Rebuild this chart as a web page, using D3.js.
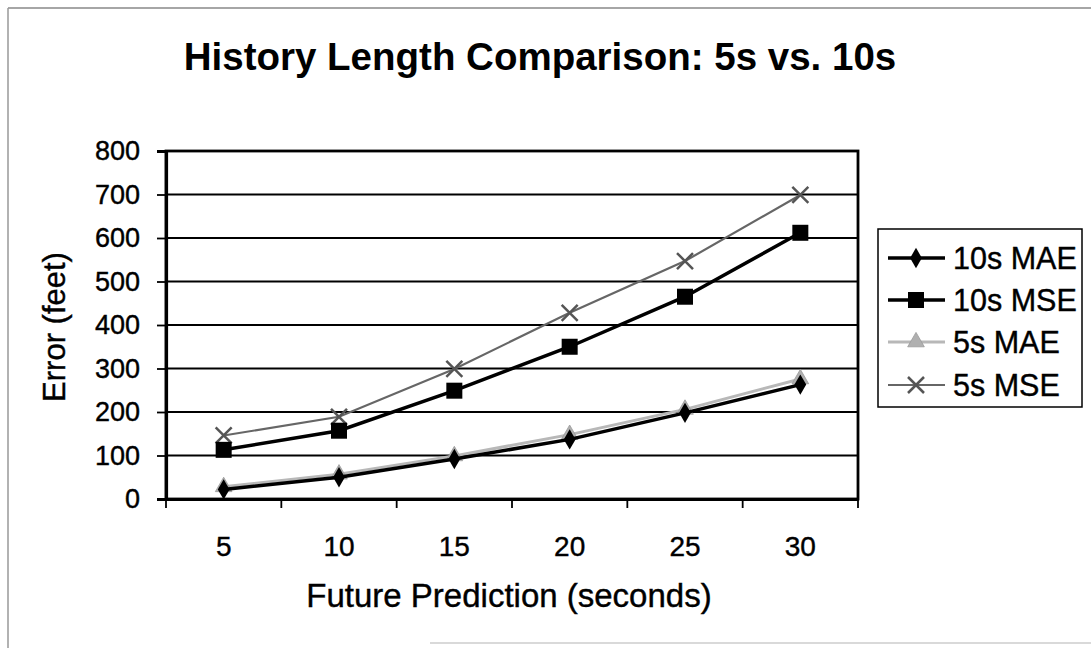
<!DOCTYPE html>
<html>
<head>
<meta charset="utf-8">
<script src="https://cdn.jsdelivr.net/npm/d3@7"></script>
<style>
  html, body { margin: 0; padding: 0; background: #fff; }
  svg { display: block; font-family: "Liberation Sans", Arial, sans-serif; }
  .txt { stroke: #000; stroke-width: 0.4px; fill: #000; }
</style>
</head>
<body>
<svg id="chart" width="1091" height="648"></svg>
<script>
// Prediction horizons (seconds) and error values (feet)
const horizons = [5, 10, 15, 20, 25, 30];
const mae10 = [22, 50, 92, 137, 198, 263];
const mse10 = [113, 157, 249, 350, 465, 612];
const mae5 = [28, 57, 99, 148, 206, 276];
const mse5 = [146, 189, 299, 428, 547, 699];
const yTicks = [0, 100, 200, 300, 400, 500, 600, 700, 800];
const seriesNames = ["10s MAE", "10s MSE", "5s MAE", "5s MSE"];

const series = [
  { name: seriesNames[0], values: mae10, color: "#000", width: 3.5, marker: "diamond", mcolor: "#000" },
  { name: seriesNames[1], values: mse10, color: "#000", width: 3.5, marker: "square", mcolor: "#000" },
  { name: seriesNames[2], values: mae5, color: "#b8b8b8", width: 3, marker: "triangle", mcolor: "#b0b0b0" },
  { name: seriesNames[3], values: mse5, color: "#666", width: 2.2, marker: "cross", mcolor: "#555" }
];

const svg = d3.select("#chart");
const plot = { left: 166, top: 151, right: 858, bottom: 499 };

// Outer chart frame
svg.append("line").attr("x1", 8).attr("y1", 8).attr("x2", 1091).attr("y2", 8)
  .attr("stroke", "#888").attr("stroke-width", 1.5);
svg.append("line").attr("x1", 8).attr("y1", 8).attr("x2", 8).attr("y2", 648)
  .attr("stroke", "#999").attr("stroke-width", 1.5);
svg.append("line").attr("x1", 430).attr("y1", 643).attr("x2", 1091).attr("y2", 643)
  .attr("stroke", "#ccc").attr("stroke-width", 1.5);

const x = d3.scaleBand().domain(horizons).range([plot.left, plot.right]);
const y = d3.scaleLinear().domain([0, 800]).range([plot.bottom, plot.top]);

// Title
svg.append("text")
  .attr("x", 540).attr("y", 70)
  .attr("text-anchor", "middle")
  .attr("font-size", 38.5).attr("font-weight", "bold")
  .text("History Length Comparison: 5s vs. 10s");

// Horizontal gridlines
svg.append("g").selectAll("line").data(yTicks).join("line")
  .attr("x1", plot.left).attr("x2", plot.right)
  .attr("y1", d => y(d)).attr("y2", d => y(d))
  .attr("stroke", "#000").attr("stroke-width", 1.8);

// Plot frame (top and right)
svg.append("rect")
  .attr("x", plot.left).attr("y", plot.top)
  .attr("width", plot.right - plot.left).attr("height", plot.bottom - plot.top)
  .attr("fill", "none").attr("stroke", "#000").attr("stroke-width", 2.8);

// Y axis
const yAxis = svg.append("g")
  .attr("transform", `translate(${plot.left},0)`)
  .call(d3.axisLeft(y).tickValues(yTicks).tickSize(9).tickPadding(17));
yAxis.select(".domain").attr("stroke-width", 3.2);
yAxis.selectAll(".tick line").attr("stroke-width", 1.8);
yAxis.selectAll("text").attr("font-size", 27).attr("font-family", "Liberation Sans, Arial, sans-serif")
  .attr("class", "txt");

// X axis: ticks sit between categories
const xAxis = svg.append("g")
  .attr("transform", `translate(0,${plot.bottom})`)
  .call(d3.axisBottom(x).tickSize(0).tickPadding(37));
xAxis.select(".domain").attr("stroke-width", 3.2);
xAxis.selectAll("text").attr("font-size", 28).attr("font-family", "Liberation Sans, Arial, sans-serif")
  .attr("class", "txt");
const bounds = horizons.map(h => x(h)).concat([plot.right]);
svg.append("g").selectAll("line").data(bounds).join("line")
  .attr("x1", d => d).attr("x2", d => d)
  .attr("y1", plot.bottom).attr("y2", plot.bottom + 9)
  .attr("stroke", "#000").attr("stroke-width", 1.8);

// Axis titles
svg.append("text")
  .attr("class", "txt")
  .attr("x", 509).attr("y", 607)
  .attr("text-anchor", "middle").attr("font-size", 33)
  .text("Future Prediction (seconds)");
svg.append("text")
  .attr("class", "txt")
  .attr("transform", "translate(65,327) rotate(-90)")
  .attr("text-anchor", "middle").attr("font-size", 31)
  .text("Error (feet)");

// Marker drawing
function drawMarker(sel, s, cx, cy) {
  if (s.marker === "diamond") {
    sel.append("path").attr("d", d3.symbol(d3.symbolDiamond, 120)())
      .attr("transform", `translate(${cx},${cy})`).attr("fill", s.mcolor);
  } else if (s.marker === "square") {
    sel.append("rect").attr("x", cx - 8).attr("y", cy - 8)
      .attr("width", 16).attr("height", 16).attr("fill", s.mcolor);
  } else if (s.marker === "triangle") {
    sel.append("path").attr("d", d3.symbol(d3.symbolTriangle, 120)())
      .attr("transform", `translate(${cx},${cy})`).attr("fill", s.mcolor)
      .attr("stroke", "#999").attr("stroke-width", 0.8);
  } else if (s.marker === "cross") {
    const r = 8;
    sel.append("path")
      .attr("d", `M${cx - r},${cy - r}L${cx + r},${cy + r}M${cx - r},${cy + r}L${cx + r},${cy - r}`)
      .attr("stroke", s.mcolor).attr("stroke-width", 2.5).attr("fill", "none");
  }
}

const cx = h => x(h) + x.bandwidth() / 2;
const line = d3.line().x((d, i) => cx(horizons[i])).y(d => y(d));

// Series lines and markers (light series drawn first)
const order = [2, 3, 0, 1];
order.forEach(k => {
  const s = series[k];
  const g = svg.append("g");
  g.append("path").datum(s.values).attr("d", line)
    .attr("fill", "none").attr("stroke", s.color).attr("stroke-width", s.width);
  s.values.forEach((v, i) => drawMarker(g, s, cx(horizons[i]), y(v)));
});

// Legend
const legend = svg.append("g");
legend.append("rect").attr("x", 878).attr("y", 229).attr("width", 204).attr("height", 178)
  .attr("fill", "#fff").attr("stroke", "#000").attr("stroke-width", 1.5);
const legendY = [258, 300, 342, 385];
series.forEach((s, i) => {
  const ly = legendY[i];
  legend.append("line").attr("x1", 888).attr("x2", 945).attr("y1", ly).attr("y2", ly)
    .attr("stroke", s.color).attr("stroke-width", s.width);
  drawMarker(legend, s, 916, ly);
  legend.append("text").attr("class", "txt").attr("x", 953).attr("y", ly + 10.5)
    .attr("font-size", 30.5).text(s.name);
});
</script>
</body>
</html>
